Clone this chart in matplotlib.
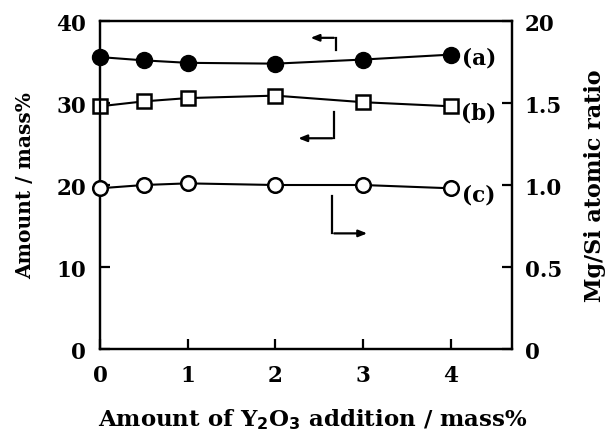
import matplotlib
matplotlib.use("Agg")
import matplotlib.pyplot as plt

x = [0, 0.5, 1, 2, 3, 4]
series_a = [35.6, 35.2, 34.9, 34.8, 35.3, 35.9]   # mass%, left axis
series_b = [29.6, 30.2, 30.6, 30.9, 30.1, 29.6]   # mass%, left axis
series_c = [0.98, 1.00, 1.01, 1.00, 1.00, 0.98]   # Mg/Si ratio, right axis
left_ticks = [0, 10, 20, 30, 40]
right_ticks = [0, 0.5, 1.0, 1.5, 2.0]
right_labels = ["0", "0.5", "1.0", "1.5", "20"]
x_ticks = [0, 1, 2, 3, 4]

plt.rcParams['font.family'] = ['DejaVu Serif']
plt.rcParams['font.weight'] = 'bold'
fs = 15.5

fig = plt.figure(figsize=(6.07, 4.35), dpi=100)
ax = fig.add_axes([0.1647, 0.1954, 0.6788, 0.754])
ax2 = ax.twinx()

lw = 1.5
ax.plot(x, series_a, '-', color='black', lw=lw, marker='o', ms=11.5,
        mfc='black', mec='black', clip_on=False, zorder=3)
ax.plot(x, series_b, '-', color='black', lw=lw, marker='s', ms=10,
        mfc='white', mec='black', mew=1.8, clip_on=False, zorder=3)
ax2.plot(x, series_c, '-', color='black', lw=lw, marker='o', ms=10.5,
         mfc='white', mec='black', mew=1.8, clip_on=False, zorder=3)

ax.set_xlim(0, 4.7)
ax.set_ylim(0, 40)
ax2.set_ylim(0, 2.0)
ax.set_xticks(x_ticks)
ax.set_yticks(left_ticks)
ax2.set_yticks(right_ticks)
ax2.set_yticklabels(right_labels)

for a in (ax, ax2):
    for s in a.spines.values():
        s.set_linewidth(1.6)
ax.tick_params(axis='x', direction='in', length=7, width=1.6,
               labelsize=fs, pad=11)
ax.tick_params(axis='y', direction='in', length=7, width=1.6,
               labelsize=fs, pad=10)
ax2.tick_params(axis='y', direction='in', length=7, width=1.6,
                labelsize=fs, pad=9)

ax.set_xlabel("Amount of Y$_\\mathbf{2}$O$_\\mathbf{3}$ addition / mass%",
              fontsize=16.5, fontweight='bold')
ax.xaxis.set_label_coords(0.515, -0.213)
ax.xaxis.label.set_va('center')
ax.set_ylabel("Amount / mass%", fontsize=14.5, fontweight='bold')
ax.yaxis.set_label_coords(-0.182, 0.5)
ax.yaxis.label.set_va('center')
ax2.set_ylabel("Mg/Si atomic ratio", fontsize=16, fontweight='bold')
ax2.yaxis.set_label_coords(1.201, 0.5)
ax2.yaxis.label.set_va('center')

# series labels
ax.text(4.32, 35.6, "(a)", fontsize=fs, fontweight='bold', va='center', ha='center')
ax.text(4.32, 28.8, "(b)", fontsize=fs, fontweight='bold', va='center', ha='center')
ax.text(4.32, 18.9, "(c)", fontsize=fs, fontweight='bold', va='center', ha='center')

# axis indicator arrows
arrow_kw = dict(arrowstyle='-|>,head_length=0.5,head_width=0.2', color='black', lw=1.6)
ax.plot([2.69, 2.69], [36.5, 37.95], color='black', lw=1.6)
ax.annotate("", xy=(2.37, 37.95), xytext=(2.70, 37.95), arrowprops=arrow_kw)
ax.plot([2.67, 2.67], [28.9, 25.7], color='black', lw=1.6)
ax.annotate("", xy=(2.23, 25.7), xytext=(2.68, 25.7), arrowprops=arrow_kw)
ax.plot([2.65, 2.65], [18.7, 14.1], color='black', lw=1.6)
ax.annotate("", xy=(3.08, 14.1), xytext=(2.64, 14.1), arrowprops=arrow_kw)

fig.savefig("out.png", dpi=100)
